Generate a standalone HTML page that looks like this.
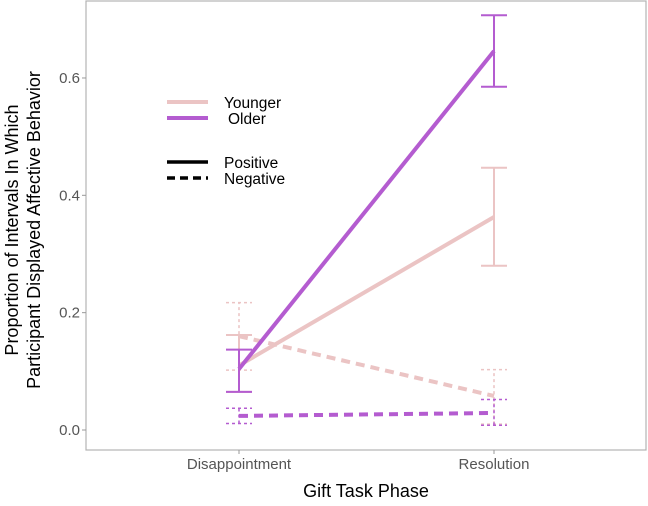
<!DOCTYPE html>
<html><head><meta charset="utf-8"><style>
body{margin:0;background:#fff}
svg{display:block;font-family:"Liberation Sans",sans-serif}
</style></head><body>
<svg id="chart" width="648" height="506">
<rect x="86" y="1" width="560" height="449" fill="#fff" stroke="#b3b3b3" stroke-width="1.2"/>
<g id="axes"></g>
<g id="marks"></g>
<text x="0" y="0" transform="translate(22,230) rotate(-90)" text-anchor="middle" font-size="18" fill="#000"><tspan x="0" dy="-4">Proportion of Intervals In Which</tspan><tspan x="0" dy="22">Participant Displayed Affective Behavior</tspan></text>
<text x="366" y="497" text-anchor="middle" font-size="18" fill="#000">Gift Task Phase</text>
<g>
<line x1="167" x2="208" y1="102" y2="102" stroke="#EBC4C4" stroke-width="4"/>
<text x="224" y="108" font-size="15.5">Younger</text>
<line x1="167" x2="208" y1="118" y2="118" stroke="#B45CD0" stroke-width="4"/>
<text x="228" y="124" font-size="15.5">Older</text>
<line x1="167" x2="208" y1="162" y2="162" stroke="#000" stroke-width="3.5"/>
<text x="224" y="168" font-size="15.5">Positive</text>
<line x1="167" x2="208" y1="178" y2="178" stroke="#000" stroke-width="3.5" stroke-dasharray="8,5"/>
<text x="224" y="184" font-size="15.5">Negative</text>
</g>
</svg>
<script>
const categories=["Disappointment","Resolution"];
const yTicks=[0,0.2,0.4,0.6];
const yTickLabels=["0.0","0.2","0.4","0.6"];
const youngerPos=[0.11,0.363];
const youngerPosLo=[0.065,0.28];
const youngerPosHi=[0.162,0.447];
const youngerNeg=[0.16,0.058];
const youngerNegLo=[0.102,0.01];
const youngerNegHi=[0.217,0.103];
const olderPos=[0.104,0.646];
const olderPosLo=[0.065,0.585];
const olderPosHi=[0.137,0.707];
const olderNeg=[0.024,0.029];
const olderNegLo=[0.011,0.008];
const olderNegHi=[0.037,0.052];

const NS="http://www.w3.org/2000/svg";
const xPos=i=>239+i*255;
const y=v=>430-v*586.7;
const axes=document.getElementById('axes'),marks=document.getElementById('marks');
function mk(tag,attrs,parent){const e=document.createElementNS(NS,tag);for(const k in attrs)e.setAttribute(k,attrs[k]);parent.appendChild(e);return e;}
yTicks.forEach((t,i)=>{
  const l=mk('line',{x1:82,x2:86,y1:y(t),y2:y(t),stroke:'#999'},axes);
  
  
  const tx=mk('text',{x:80,y:y(t)+5,'text-anchor':'end','font-size':15,fill:'#555'},axes);
  tx.textContent=yTickLabels[i];
  
  
});
categories.forEach((c,i)=>{
  const l=mk('line',{x1:xPos(i),x2:xPos(i),y1:450,y2:454,stroke:'#999'},axes);
  
  
  const tx=mk('text',{x:xPos(i),y:469,'text-anchor':'middle','font-size':15,fill:'#555'},axes);
  tx.textContent=c;
  
  
});
function series(name,vals,lo,hi,color,dashed){
  lo.forEach((v,i)=>{
    const g=mk('g',{stroke:color,'stroke-width':dashed?1.5:2,'stroke-dasharray':dashed?'3,3':'none',fill:'none'},marks);
    
    
    const x=xPos(i);
    mk('line',{x1:x,x2:x,y1:y(lo[i]),y2:y(hi[i])},g);
    mk('line',{x1:x-13,x2:x+13,y1:y(lo[i]),y2:y(lo[i])},g);
    mk('line',{x1:x-13,x2:x+13,y1:y(hi[i]),y2:y(hi[i])},g);
  });
  const p=mk('polyline',{points:vals.map((v,i)=>xPos(i)+','+y(v)).join(' '),fill:'none',stroke:color,'stroke-width':4,'stroke-dasharray':dashed?'9,6':'none'},marks);
  
  
}
series('younger-negative',youngerNeg,youngerNegLo,youngerNegHi,'#EBC4C4',true);
series('older-negative',olderNeg,olderNegLo,olderNegHi,'#B45CD0',true);
series('younger-positive',youngerPos,youngerPosLo,youngerPosHi,'#EBC4C4',false);
series('older-positive',olderPos,olderPosLo,olderPosHi,'#B45CD0',false);
</script>
</body></html>
